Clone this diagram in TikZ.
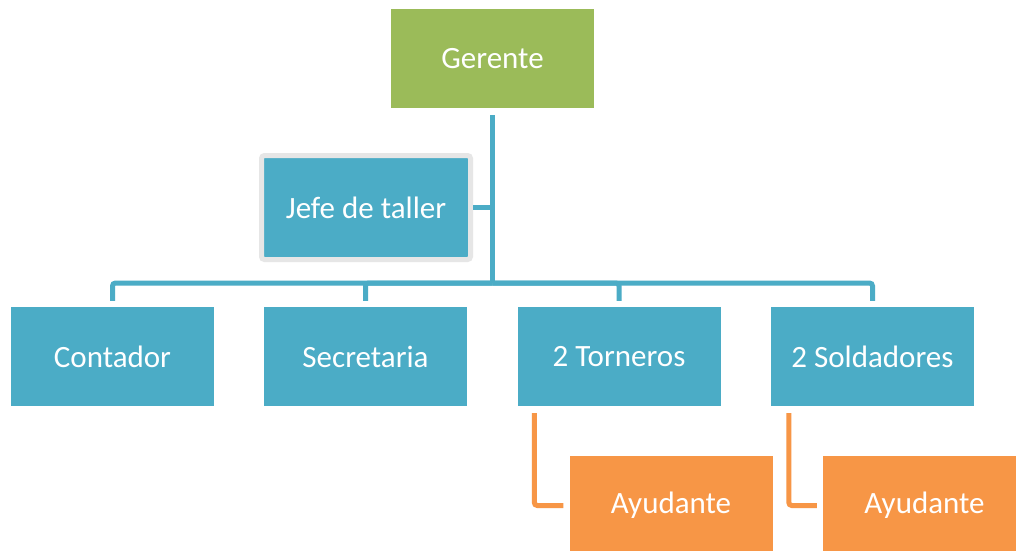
\documentclass[tikz,border=0pt]{standalone}
\usepackage{fontspec}
\setmainfont{Carlito}
\definecolor{ablue}{HTML}{4BACC6}
\definecolor{agreen}{HTML}{9BBB59}
\definecolor{aorange}{HTML}{F79646}
\definecolor{agray}{HTML}{E6E6E6}
\begin{document}
\begin{tikzpicture}[x=1pt,y=-1pt,
  box/.style={rectangle, minimum width=203pt, minimum height=99pt, inner sep=0pt, text=white, font=\fontsize{31}{36}\selectfont},
  bline/.style={draw=ablue, line width=5pt, rounded corners=3pt},
  oline/.style={draw=aorange, line width=5pt, rounded corners=3pt}]
\clip (0,0) rectangle (1016,550);
\fill[white] (0,0) rectangle (1016,550);
\node[box, fill=agreen] (ger) at (492.5,58.5) {Gerente};
\node[box, fill=ablue, draw=agray, line width=5pt, rounded corners=3pt, minimum width=209pt, minimum height=104pt] (jefe) at (366,207.5) {Jefe de taller};
\node[box, fill=ablue] (cont) at (112.5,356.5) {Contador};
\node[box, fill=ablue] (secr) at (365.5,356.5) {Secretaria};
\node[box, fill=ablue] (torn) at (619,356.5) {2 Torneros};
\node[box, fill=ablue] (sold) at (872.5,356.5) {2 Soldadores};
\node[box, fill=aorange] (ay1) at (671,505.5) {Ayudante};
\node[box, fill=aorange] (ay2) at (924.5,505.5) {Ayudante};
\coordinate (bus) at (493,283);
\draw[bline, shorten <=7pt] (ger.south) -- (ger.south |- bus);
\draw[bline] (jefe.east) -- (jefe.east -| ger.south);
\foreach \c in {cont,secr,torn,sold}{
  \draw[bline] (ger.south |- bus) -| ([yshift=6pt]\c.north);
}
\draw[oline] ([xshift=17pt,yshift=-7pt]torn.south west) |- ([xshift=-6pt]ay1.west);
\draw[oline] ([xshift=18pt,yshift=-7pt]sold.south west) |- ([xshift=-6pt]ay2.west);
\end{tikzpicture}
\end{document}
